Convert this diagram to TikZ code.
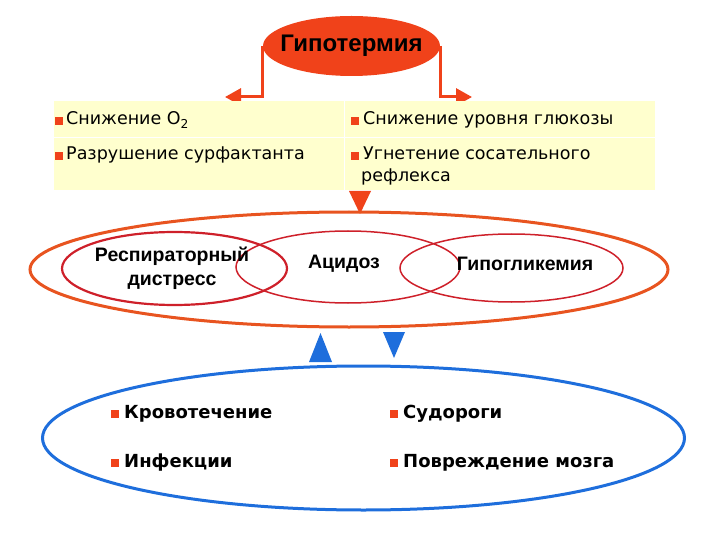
\documentclass[tikz,border=0pt]{standalone}
\usepackage{fontspec}
\setmainfont{DejaVu Sans}
\newfontfamily\headfont{Liberation Sans}
\usetikzlibrary{positioning,shapes.geometric,arrows.meta}
\definecolor{hotred}{RGB}{240,66,26}
\definecolor{ringred}{RGB}{232,84,32}
\definecolor{innerred}{RGB}{206,32,42}
\definecolor{ringblue}{RGB}{30,110,220}
\definecolor{paleyellow}{RGB}{255,255,206}
\newcommand{\bul}{\textcolor{hotred}{\rule{8pt}{8pt}}}

\begin{document}
\begin{tikzpicture}[x=1pt,y=-1pt,
hypo/.style={
  ellipse,
  fill=hotred,
  minimum width=177pt,
  minimum height=60pt,
  inner xsep=-20pt,
  inner ysep=-6pt,
  font=\headfont\bfseries\fontsize{24}{26}\selectfont
  },
ring/.style={
  ellipse,
  draw,
  inner sep=0pt
  },
state/.style={
  ring,
  draw=innerred,
  line width=1.5pt,
  minimum width=224pt,
  minimum height=72pt
  },
label/.style={
  align=center,
  inner sep=0pt,
  font=\headfont\bfseries\fontsize{19.5}{24}\selectfont
  },
item/.style={
  anchor=base west,
  inner sep=0pt,
  font=\fontsize{17.5}{21}\selectfont
  },
bolditem/.style={
  item,
  font=\bfseries\fontsize{18}{21}\selectfont
  },
hot/.style={
  draw=hotred,
  line width=3pt,
  -{Triangle[length=16pt,width=17pt]}
  }
]
\useasboundingbox (0,0) rectangle (720,540);

% hypothermia and its two branches
\node[hypo] (hypo) at (351.5,46) {Гипотермия};
\coordinate (lt) at (225,97);
\coordinate (rt) at (472,97);
\draw[hot] (hypo.west) |- (lt);
\draw[hot] (hypo.east) |- (rt);

% yellow box with the four effects
\node[fill=paleyellow, minimum width=601pt, minimum height=89pt, inner sep=0pt] (box) at (354.5,145.5) {};
\draw[white, line width=0.8pt] (344,101) -- (344,190) (54,137) -- (655,137);
\node[item] (o2) at (55,125) {\bul\hspace{3pt}Снижение O\textsubscript{2}};
\node[item] (gluc) at (351,125) {\bul\hspace{4pt}Снижение уровня глюкозы};
\node[item] (surf) at (55,160) {\bul\hspace{3pt}Разрушение сурфактанта};
\node[item] (refl) at (351,160) {\bul\hspace{4pt}Угнетение сосательного};
\node[item] (refl2) at (361,182) {рефлекса};
\fill[hotred] (349,191) -- (371,191) -- (360,214) -- cycle;

% the three states
\node[ring, draw=ringred, line width=3pt, minimum width=638pt, minimum height=115pt] (big) at (349,269.5) {};
\node[state, minimum width=224pt] (acid) at (348,267) {};
\node[state, minimum width=223pt, minimum height=68pt] (glyc) at (511.5,268) {};
\node[state, line width=2.2pt, minimum width=225pt, minimum height=73pt] (resp) at (174.5,268.5) {};
\node[label] (acidtxt) at (344,264) {Ацидоз};
\node[label] (glyctxt) at (525,264) {Гипогликемия};
\node[label] (resptxt) at (172,268) {Респираторный\\дистресс};

% feedback triangles
\fill[ringblue] (309,362) -- (320.5,333) -- (332,362) -- cycle;
\fill[ringblue] (383,332) -- (405,332) -- (394,358) -- cycle;

% complications
\node[ring, draw=ringblue, line width=3pt, minimum width=642pt, minimum height=144pt] (low) at (363.5,438) {};
\node[bolditem] (bleed) at (111,418) {\bul\hspace{5pt}Кровотечение};
\node[bolditem] (infect) at (111,467) {\bul\hspace{5pt}Инфекции};
\node[bolditem] (seiz) at (390,418) {\bul\hspace{5pt}Судороги};
\node[bolditem] (brain) at (390,467) {\bul\hspace{5pt}Повреждение мозга};
\end{tikzpicture}
\end{document}
